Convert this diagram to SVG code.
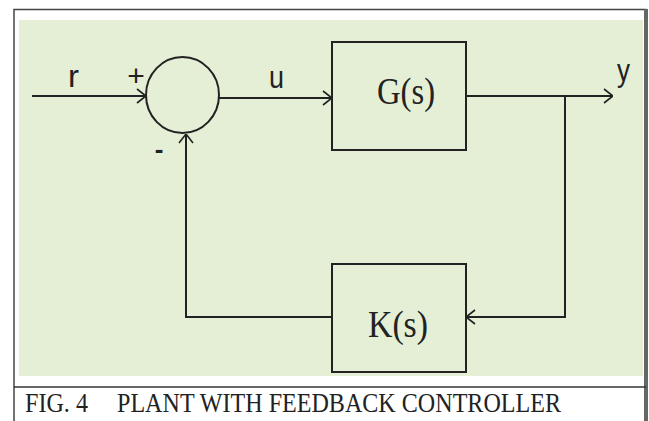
<svg xmlns="http://www.w3.org/2000/svg" width="649" height="421" viewBox="0 0 649 421">
<defs>
<style>
.ln{fill:none;stroke:#222;stroke-width:2}
.box{fill:none;stroke:#222;stroke-width:2}
.sans{font-family:"Liberation Sans",Arial,sans-serif;fill:#222}
.serif{font-family:"Liberation Serif","Times New Roman",serif;fill:#222}
</style>
<marker id="arr" viewBox="0 0 10 16" refX="10" refY="8" markerWidth="10" markerHeight="16" markerUnits="userSpaceOnUse" orient="auto">
<path d="M1,1 L10,8 L1,15" fill="none" stroke="#222" stroke-width="1.6"/>
</marker>
</defs>
<rect x="0" y="0" width="649" height="421" fill="#ffffff"/>
<g id="frame">
<rect x="19" y="20" width="624" height="356" fill="#e4efd6"/>
<path d="M14,430 L14,9.5 L646,9.5 L646,430" fill="none" stroke="#444" stroke-width="1.5"/>
<line x1="646" y1="9" x2="646" y2="421" stroke="#666" stroke-width="4"/>
<line x1="14" y1="387" x2="646" y2="387" stroke="#333" stroke-width="1.5"/>
<text x="25" y="412" class="serif" font-size="27" textLength="63" lengthAdjust="spacingAndGlyphs">FIG. 4</text>
<text x="117" y="412" class="serif" font-size="27" textLength="444" lengthAdjust="spacingAndGlyphs">PLANT WITH FEEDBACK CONTROLLER</text>
</g>
<g id="connectors">
<line class="ln" x1="32" y1="96" x2="146" y2="96" marker-end="url(#arr)"/>
<line class="ln" x1="219" y1="98" x2="332" y2="98" marker-end="url(#arr)"/>
<line class="ln" x1="466" y1="96" x2="613" y2="96" marker-end="url(#arr)"/>
<polyline class="ln" points="565,96 565,317 466,317" marker-end="url(#arr)"/>
<polyline class="ln" points="332,317 186,317 186,134" marker-end="url(#arr)"/>
</g>
<g id="sum">
<ellipse cx="182.5" cy="95" rx="36.5" ry="38" class="box"/>
<text x="136" y="86" class="sans" font-size="30" text-anchor="middle">+</text>
<text x="159" y="158" class="sans" font-size="26" font-weight="bold" text-anchor="middle">-</text>
</g>
<g id="G">
<rect x="332" y="42" width="134" height="108" class="box"/>
<text x="377" y="104" class="serif" font-size="38" textLength="58" lengthAdjust="spacingAndGlyphs">G(s)</text>
</g>
<g id="K">
<rect x="332" y="264" width="134" height="108" class="box"/>
<text x="368" y="337" class="serif" font-size="38" textLength="60" lengthAdjust="spacingAndGlyphs">K(s)</text>
</g>
<g id="labels">
<text x="68" y="87" class="sans" font-size="31" textLength="11" lengthAdjust="spacingAndGlyphs">r</text>
<text x="269" y="88" class="sans" font-size="31" textLength="15" lengthAdjust="spacingAndGlyphs">u</text>
<text x="617" y="81" class="sans" font-size="31" textLength="13" lengthAdjust="spacingAndGlyphs">y</text>
</g>
</svg>
